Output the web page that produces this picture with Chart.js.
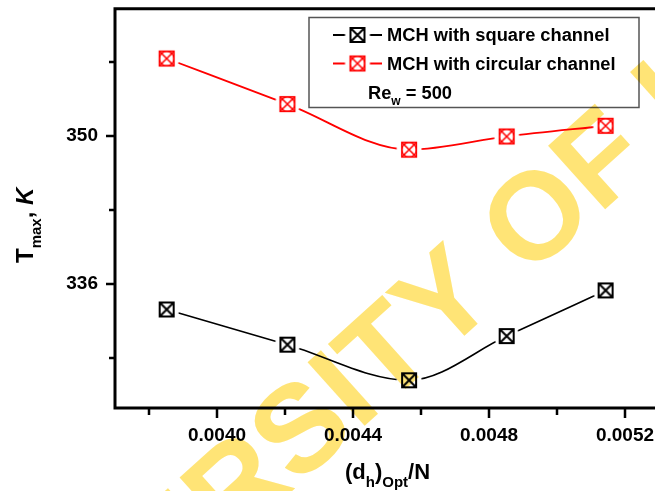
<!DOCTYPE html>
<html>
<head>
<meta charset="utf-8">
<script src="https://cdn.jsdelivr.net/npm/chart.js@4.4.1/dist/chart.umd.min.js"></script>
<style>
html,body{margin:0;padding:0;background:#fff;overflow:hidden;width:655px;height:491px;}
#wrap{width:680px;height:491px;}
</style>
</head>
<body>
<div id="wrap"><canvas id="c" width="680" height="491"></canvas></div>
<script>
// ---- data ----
const xValues = [0.003852, 0.004207, 0.004565, 0.004852, 0.005143];
const squareT = [333.57, 330.24, 326.87, 331.05, 335.37];
const circularT = [357.3, 352.99, 348.68, 349.93, 350.94];
const seriesNames = ['MCH with square channel', 'MCH with circular channel'];
const yTickValues = [329, 336, 343, 350, 357];
const yTickLabels = ['', '336', '', '350', ''];
const xTickValues = [0.0038, 0.0040, 0.0042, 0.0044, 0.0046, 0.0048, 0.0050, 0.0052];
const xTickLabels = ['', '0.0040', '', '0.0044', '', '0.0048', '', '0.0052'];
const annotationText = ['Re', 'w', ' = 500'];
const watermarkText = 'UNIVERSITY OF INDIA';

const FONT = '"Liberation Sans", Arial, sans-serif';

function makeMarker(color, circle, lw, h) {
  const c = document.createElement('canvas');
  c.width = 30; c.height = 30;
  const g = c.getContext('2d');
  g.fillStyle = '#fff';
  g.beginPath(); g.arc(15, 15, 12.5, 0, 2 * Math.PI); g.fill();
  g.strokeStyle = color; g.lineWidth = lw;
  g.strokeRect(15 - h, 15 - h, 2 * h, 2 * h);
  g.beginPath();
  g.moveTo(15 - h, 15 - h); g.lineTo(15 + h, 15 + h);
  g.moveTo(15 + h, 15 - h); g.lineTo(15 - h, 15 + h);
  g.stroke();
  if (circle) { g.beginPath(); g.arc(15, 15, h, 0, 2 * Math.PI); g.stroke(); }
  return c;
}
const markerBlack = makeMarker('#000', false, 2, 7);
const markerRed = makeMarker('#ff0000', true, 1.5, 7.3);

const decorPlugin = {
  id: 'decor',
  afterDraw(chart) {
    const ctx = chart.ctx;
    const a = chart.chartArea;
    const xs = chart.scales.x, ys = chart.scales.y;
    ctx.save();
    // frame
    ctx.strokeStyle = '#000';
    ctx.lineWidth = 3;
    ctx.beginPath();
    ctx.moveTo(a.left, a.top); ctx.lineTo(a.right, a.top);
    ctx.moveTo(a.left, a.top - 1.5); ctx.lineTo(a.left, a.bottom + 1.5);
    ctx.moveTo(a.left - 1.5, a.bottom); ctx.lineTo(a.right, a.bottom);
    ctx.moveTo(a.right, a.top); ctx.lineTo(a.right, a.bottom);
    ctx.stroke();
    // ticks
    ctx.lineWidth = 2.5;
    ctx.beginPath();
    yTickValues.forEach((v, i) => {
      const y = Math.round(ys.getPixelForValue(v));
      const len = yTickLabels[i] ? 9 : 6;
      ctx.moveTo(a.left, y); ctx.lineTo(a.left - len, y);
    });
    xTickValues.forEach((v, i) => {
      const x = Math.round(xs.getPixelForValue(v));
      const len = xTickLabels[i] ? 10 : 7;
      ctx.moveTo(x, a.bottom); ctx.lineTo(x, a.bottom + len);
    });
    ctx.stroke();

    // x title: (d_h)_Opt/N
    ctx.fillStyle = '#000';
    ctx.textBaseline = 'alphabetic';
    ctx.textAlign = 'left';
    let x = 345, yb = 479;
    const big = 'bold 22px ' + FONT, small = 'bold 15px ' + FONT;
    const parts = [['(d', big, 0], ['h', small, 8], [')', big, 0], ['Opt', small, 8], ['/N', big, 0]];
    parts.forEach(p => { ctx.font = p[1]; ctx.fillText(p[0], x, yb + p[2]); x += ctx.measureText(p[0]).width; });

    // y title: T_max, K (rotated)
    ctx.save();
    ctx.translate(33, 263);
    ctx.rotate(-Math.PI / 2);
    let tx = 0;
    const ybig = 'bold 24px ' + FONT, ysmall = 'bold 15px ' + FONT, yit = 'italic bold 24px ' + FONT;
    const yparts = [['T', ybig, 0], ['max', ysmall, 8], [', ', ybig, 0], ['K', yit, 0]];
    yparts.forEach(p => { ctx.font = p[1]; ctx.fillText(p[0], tx, p[2]); tx += ctx.measureText(p[0]).width; });
    ctx.restore();

    // legend
    const L = {x1: 309, y1: 17.5, x2: 639, y2: 107.5};
    ctx.fillStyle = '#fff';
    ctx.fillRect(L.x1, L.y1, L.x2 - L.x1, L.y2 - L.y1);
    ctx.strokeStyle = '#555';
    ctx.lineWidth = 1.5;
    ctx.strokeRect(L.x1, L.y1, L.x2 - L.x1, L.y2 - L.y1);
    const rows = [{y: 35, color: '#000', m: markerBlack}, {y: 63.5, color: '#ff0000', m: markerRed}];
    rows.forEach((r, i) => {
      ctx.strokeStyle = r.color; ctx.lineWidth = 2;
      ctx.beginPath();
      ctx.moveTo(333, r.y); ctx.lineTo(346, r.y);
      ctx.moveTo(369, r.y); ctx.lineTo(382, r.y);
      ctx.stroke();
      ctx.drawImage(r.m, 357.5 - 15, r.y - 15);
      ctx.fillStyle = '#000';
      ctx.font = 'bold 18.3px ' + FONT;
      ctx.textBaseline = 'middle';
      ctx.fillText(seriesNames[i], 387, r.y + 1);
    });
    ctx.textBaseline = 'alphabetic';
    let ax = 368;
    ctx.font = 'bold 18.3px ' + FONT;
    ctx.fillText(annotationText[0], ax, 99); ax += ctx.measureText(annotationText[0]).width;
    ctx.font = 'bold 12px ' + FONT;
    ctx.fillText(annotationText[1], ax, 105); ax += ctx.measureText(annotationText[1]).width;
    ctx.font = 'bold 18.3px ' + FONT;
    ctx.fillText(annotationText[2], ax, 99);

    // watermark (multiply overlay)
    ctx.globalCompositeOperation = 'multiply';
    ctx.font = 'bold 124px ' + FONT;
    ctx.fillStyle = 'rgb(255,228,118)';
    const off = ctx.measureText('UNIVER').width + ctx.measureText('S').width / 2;
    const ang = -42 * Math.PI / 180;
    ctx.translate(298, 426);
    ctx.rotate(ang);
    ctx.textBaseline = 'alphabetic';
    ctx.textAlign = 'left';
    ctx.fillText(watermarkText, -off, 0.716 * 124 / 2);
    ctx.restore();
  }
};

new Chart(document.getElementById('c'), {
  type: 'line',
  data: {
    datasets: [
      {
        label: seriesNames[0],
        data: xValues.map((x, i) => ({x: x, y: squareT[i]})),
        borderColor: '#000', borderWidth: 1.6,
        pointStyle: markerBlack, pointRadius: 7,
        cubicInterpolationMode: 'monotone', fill: false
      },
      {
        label: seriesNames[1],
        data: xValues.map((x, i) => ({x: x, y: circularT[i]})),
        borderColor: '#ff0000', borderWidth: 1.8,
        pointStyle: markerRed, pointRadius: 7,
        cubicInterpolationMode: 'monotone', fill: false
      }
    ]
  },
  options: {
    responsive: false,
    animation: false,
    devicePixelRatio: 1,
    layout: {padding: {left: 0, top: 8, right: 21, bottom: 0}},
    plugins: {legend: {display: false}, tooltip: {enabled: false}},
    scales: {
      x: {
        type: 'linear', min: 0.0037, max: 0.0053,
        afterFit(s) { s.height = 83; s.paddingLeft = 0; s.paddingRight = 0; },
        afterBuildTicks(s) { s.ticks = xTickValues.map(v => ({value: v})); },
        border: {display: false},
        grid: {display: true, drawOnChartArea: false, drawTicks: true, tickLength: 0, color: 'rgba(0,0,0,0)'},
        ticks: {
          autoSkip: false, maxRotation: 0, padding: 16, color: '#000',
          font: {family: FONT, size: 19, weight: 'bold'},
          callback(v, i) { return xTickLabels[i]; }
        }
      },
      y: {
        type: 'linear', min: 324.25, max: 362,
        afterFit(s) { s.width = 115; s.paddingTop = 0; s.paddingBottom = 0; },
        afterBuildTicks(s) { s.ticks = yTickValues.map(v => ({value: v})); },
        border: {display: false},
        grid: {display: true, drawOnChartArea: false, drawTicks: true, tickLength: 0, color: 'rgba(0,0,0,0)'},
        ticks: {
          autoSkip: false, padding: 17, color: '#000',
          font: {family: FONT, size: 19, weight: 'bold'},
          callback(v, i) { return yTickLabels[i]; }
        }
      }
    }
  },
  plugins: [decorPlugin]
});
</script>
</body>
</html>
